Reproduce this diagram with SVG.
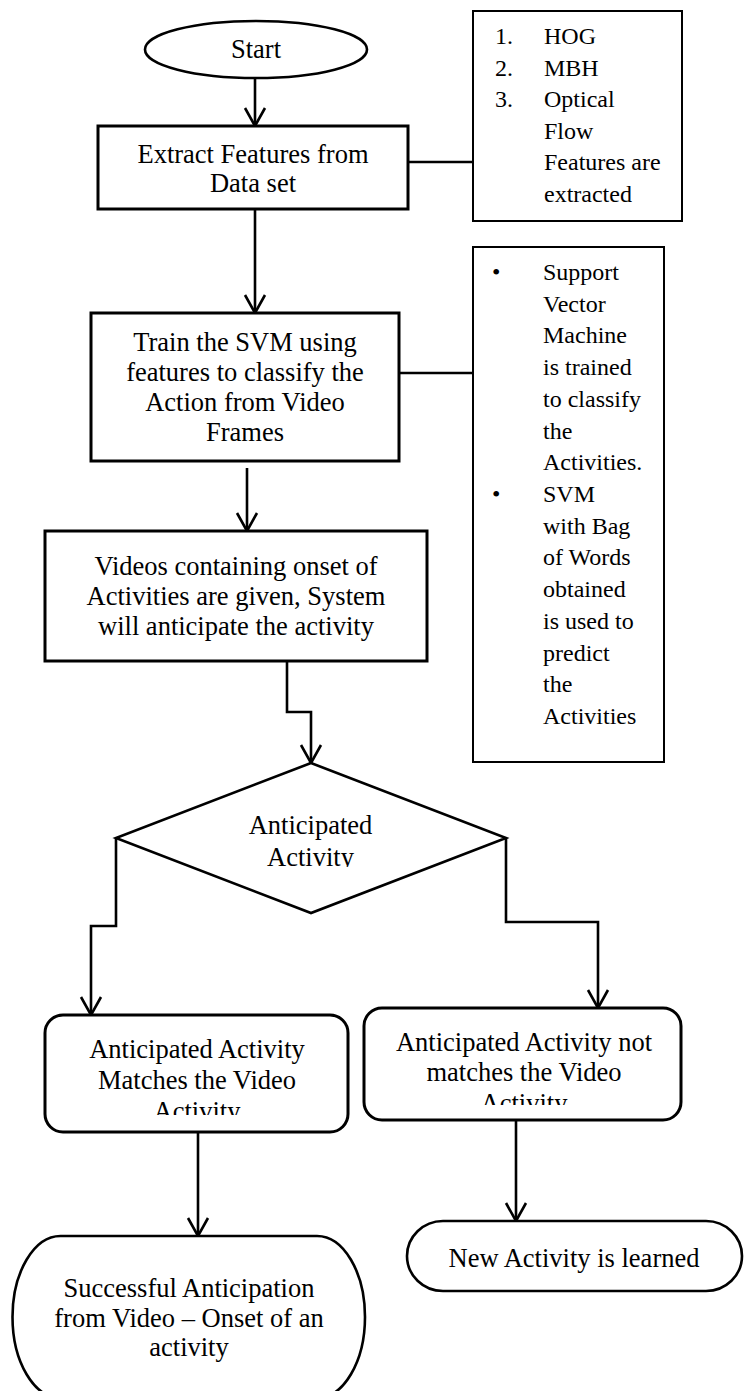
<svg xmlns="http://www.w3.org/2000/svg" width="747" height="1391" viewBox="0 0 747 1391">
<style>
  .main { font-family: "Liberation Serif", "Times New Roman", serif; font-size: 26.5px; fill: #000; text-anchor: middle; }
  .side { font-family: "Liberation Serif", "Times New Roman", serif; font-size: 24px; fill: #000; }
  .box { fill: #fff; stroke: #000; stroke-width: 3; }
  .sbox { fill: #fff; stroke: #000; stroke-width: 2; }
  .shape { fill: #fff; stroke: #000; stroke-width: 2.6; }
  .conn { fill: none; stroke: #000; stroke-width: 2.6; }
  .arrow { fill: none; stroke: #000; stroke-width: 2.6; marker-end: url(#arr); }
</style>
<defs>
  <marker id="arr" viewBox="-20 -12 22 24" refX="0" refY="0" markerWidth="22" markerHeight="24" markerUnits="userSpaceOnUse" orient="auto">
    <path d="M-18,-10 L0,0 L-18,10" fill="none" stroke="#000" stroke-width="2.6"/>
  </marker>
  <clipPath id="clipDiamond"><rect x="100" y="760" width="420" height="107"/></clipPath>
  <clipPath id="clipLeftBox"><rect x="45" y="1015" width="303" height="100"/></clipPath>
  <clipPath id="clipRightBox"><rect x="364" y="1008" width="317" height="97"/></clipPath>
</defs>
<rect width="747" height="1391" fill="#fff"/>

<g id="connectors">
  <line class="arrow" x1="255" y1="78" x2="255" y2="126"/>
  <line class="conn" x1="408" y1="162" x2="473" y2="162"/>
  <line class="arrow" x1="255" y1="209" x2="255" y2="313"/>
  <line class="conn" x1="399" y1="373" x2="473" y2="373"/>
  <line class="arrow" x1="247" y1="468" x2="247" y2="531"/>
  <polyline class="arrow" points="287,661 287,712 311,712 311,763"/>
  <polyline class="arrow" points="116,838 116,926 91,926 91,1015"/>
  <polyline class="arrow" points="506,838 506,922 598,922 598,1008"/>
  <line class="arrow" x1="198" y1="1132" x2="198" y2="1236"/>
  <line class="arrow" x1="516" y1="1120" x2="516" y2="1221"/>
</g>

<g id="start">
  <ellipse class="shape" cx="256" cy="49.5" rx="111" ry="28.5"/>
  <text class="main" x="256" y="58">Start</text>
</g>

<g id="extract">
  <rect class="box" x="98" y="126" width="310" height="83"/>
  <text class="main" x="253" y="162.5">Extract Features from</text>
  <text class="main" x="253" y="192">Data set</text>
</g>

<g id="note-features">
  <rect class="sbox" x="473" y="11" width="209" height="210"/>
  <text class="side" x="495" y="44">1.</text><text class="side" x="544" y="44">HOG</text>
  <text class="side" x="495" y="75.5">2.</text><text class="side" x="544" y="75.5">MBH</text>
  <text class="side" x="495" y="107">3.</text><text class="side" x="544" y="107">Optical</text>
  <text class="side" x="544" y="138.5">Flow</text>
  <text class="side" x="544" y="170">Features are</text>
  <text class="side" x="544" y="201.5">extracted</text>
</g>

<g id="train">
  <rect class="box" x="91" y="313" width="308" height="148"/>
  <text class="main" x="245" y="350.5">Train the SVM using</text>
  <text class="main" x="245" y="380.5">features to classify the</text>
  <text class="main" x="245" y="410.5">Action from Video</text>
  <text class="main" x="245" y="440.5">Frames</text>
</g>

<g id="note-svm">
  <rect class="sbox" x="473" y="247" width="191" height="515"/>
  <text class="side" x="492" y="280">•</text>
  <text class="side" x="543" y="280">Support</text>
  <text class="side" x="543" y="311.7">Vector</text>
  <text class="side" x="543" y="343.4">Machine</text>
  <text class="side" x="543" y="375.1">is trained</text>
  <text class="side" x="543" y="406.8">to classify</text>
  <text class="side" x="543" y="438.6">the</text>
  <text class="side" x="543" y="470.3">Activities.</text>
  <text class="side" x="492" y="502">•</text>
  <text class="side" x="543" y="502">SVM</text>
  <text class="side" x="543" y="533.7">with Bag</text>
  <text class="side" x="543" y="565.4">of Words</text>
  <text class="side" x="543" y="597.1">obtained</text>
  <text class="side" x="543" y="628.8">is used to</text>
  <text class="side" x="543" y="660.5">predict</text>
  <text class="side" x="543" y="692.2">the</text>
  <text class="side" x="543" y="724">Activities</text>
</g>

<g id="videos">
  <rect class="box" x="45" y="531" width="382" height="130"/>
  <text class="main" x="236" y="575">Videos containing onset of</text>
  <text class="main" x="236" y="605">Activities are given, System</text>
  <text class="main" x="236" y="635">will anticipate the activity</text>
</g>

<g id="decision">
  <polygon class="shape" points="311,763 506,838 311,913 116,838"/>
  <g clip-path="url(#clipDiamond)">
    <text class="main" x="310.5" y="834">Anticipated</text>
    <text class="main" x="310.5" y="866">Activity</text>
  </g>
</g>

<g id="match">
  <rect class="box" x="45" y="1015" width="303" height="117" rx="18" ry="18"/>
  <g clip-path="url(#clipLeftBox)">
    <text class="main" x="197" y="1057.5">Anticipated Activity</text>
    <text class="main" x="197" y="1088.5">Matches the Video</text>
    <text class="main" x="197" y="1119.5">Activity</text>
  </g>
</g>

<g id="nomatch">
  <rect class="box" x="364" y="1008" width="317" height="112" rx="18" ry="18"/>
  <g clip-path="url(#clipRightBox)">
    <text class="main" x="524" y="1050.5">Anticipated Activity not</text>
    <text class="main" x="524" y="1080.5">matches the Video</text>
    <text class="main" x="524" y="1111.5">Activity</text>
  </g>
</g>

<g id="success">
  <rect class="shape" x="12.5" y="1236" width="352.5" height="162" rx="48" ry="81"/>
  <text class="main" x="189" y="1297">Successful Anticipation</text>
  <text class="main" x="189" y="1327">from Video – Onset of an</text>
  <text class="main" x="189" y="1356">activity</text>
</g>

<g id="learned">
  <rect class="shape" x="407" y="1221" width="335" height="70" rx="36" ry="35"/>
  <text class="main" x="574" y="1267">New Activity is learned</text>
</g>
</svg>
